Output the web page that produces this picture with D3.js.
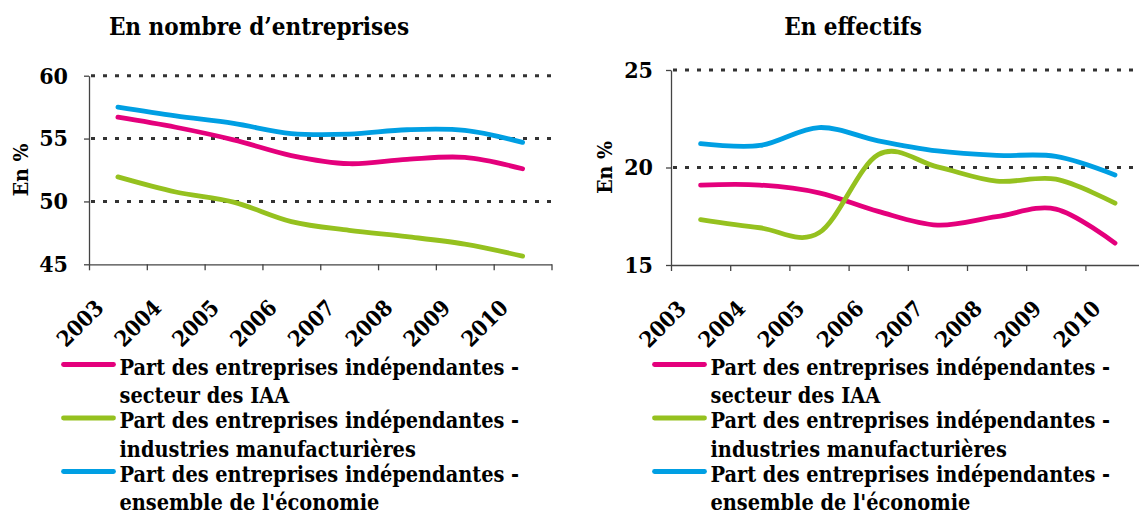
<!DOCTYPE html>
<html>
<head>
<meta charset="utf-8">
<script src="https://cdn.jsdelivr.net/npm/d3@7"></script>
<style>
  body { margin: 0; background: #fff; }
  svg text { font-family: "DejaVu Serif Condensed", "DejaVu Serif", serif; font-weight: bold; fill: #000; }
</style>
</head>
<body>
<div id="root"></div>
<script>
// Categories (x axis).
const years = ['2003', '2004', '2005', '2006', '2007', '2008', '2009', '2010'];

// Left panel: share in number of companies (%).
const nbIAA      = [56.7, 55.9, 54.9, 53.65, 53.0, 53.35, 53.5, 52.6];
const nbManuf    = [51.95, 50.75, 49.95, 48.4, 47.7, 47.2, 46.6, 45.65];
const nbEnsemble = [57.5, 56.8, 56.2, 55.4, 55.35, 55.7, 55.65, 54.7];

// Right panel: share in headcount (%).
const effIAA      = [19.1, 19.1, 18.7, 17.75, 17.05, 17.48, 17.87, 16.12];
const effManuf    = [17.33, 16.91, 16.65, 20.66, 20.03, 19.3, 19.4, 18.17];
const effEnsemble = [21.22, 21.13, 22.05, 21.37, 20.85, 20.62, 20.57, 19.62];

// Tick labels.
const leftTicks = [45, 50, 55, 60];
const rightTicks = [15, 20, 25];

// Legend labels (two lines each).
const seriesLabels = [
  ['Part des entreprises indépendantes -', 'secteur des IAA'],
  ['Part des entreprises indépendantes -', 'industries manufacturières'],
  ['Part des entreprises indépendantes -', "ensemble de l'économie"]
];
const seriesColors = ['#E4007C', '#95C11F', '#009FE3'];

const svg = d3.select('#root')
  .append('svg')
  .attr('width', 1139)
  .attr('height', 515);

function drawPanel(p) {
  const g = svg.append('g');

  // x: one band per year, Excel puts the ticks between categories.
  const x = d3.scaleBand().domain(years).range([p.x0, p.x1]).padding(0);
  const xEdge = d3.scaleLinear().domain([0, years.length]).range([p.x0, p.x1]);
  const y = d3.scaleLinear().domain(p.domain).range([p.yBottom, p.yTop]);

  // dotted gridlines
  g.selectAll('.grid')
    .data(p.ticks.filter(t => t > p.domain[0]))
    .enter()
    .append('line')
    .attr('class', 'grid')
    .attr('x1', p.x0 + 2)
    .attr('x2', p.x1)
    .attr('y1', d => y(d))
    .attr('y2', d => y(d))
    .attr('stroke', '#333')
    .attr('stroke-width', 3)
    .attr('stroke-dasharray', '4,8');

  // x axis (ticks only, labels are rotated separately)
  const xAxis = g.append('g')
    .attr('transform', `translate(0, ${p.yBottom})`)
    .call(d3.axisBottom(xEdge).tickValues(d3.range(0, years.length + 1)).tickFormat('').tickSize(6).tickSizeOuter(0));
  xAxis.select('.domain').attr('stroke', '#444').attr('stroke-width', 1.3);
  xAxis.selectAll('.tick line').attr('stroke', '#444').attr('stroke-width', 1.3);

  g.selectAll('.xlabel')
    .data(years)
    .enter()
    .append('text')
    .attr('class', 'xlabel')
    .attr('transform', d => `translate(${x(d) + x.bandwidth() / 2 - 13}, ${p.yBottom + 45}) rotate(-45)`)
    .style('text-anchor', 'end')
    .style('font-size', '22px')
    .text(d => d);

  // y axis
  const yAxis = g.append('g')
    .attr('transform', `translate(${p.x0}, 0)`)
    .call(d3.axisLeft(y).tickValues(p.ticks).tickSize(5).tickSizeOuter(0).tickPadding(p.tickPad));
  yAxis.select('.domain').attr('stroke', '#444').attr('stroke-width', 1.3);
  yAxis.selectAll('.tick line').attr('stroke', '#444').attr('stroke-width', 1.3);
  yAxis.selectAll('.tick text')
    .style('font-size', '23px')
    .style('font-family', '"DejaVu Serif Condensed", "DejaVu Serif", serif')
    .style('font-weight', 'bold')
    .attr('fill', '#000');

  // y label
  g.append('text')
    .attr('transform', `translate(${p.ylabelX}, ${(p.yTop + p.yBottom) / 2}) rotate(-90)`)
    .style('text-anchor', 'middle')
    .style('font-size', '21px')
    .text('En %');

  // title
  g.append('text')
    .attr('x', p.titleX)
    .attr('y', 35)
    .style('text-anchor', 'middle')
    .style('font-size', '24px')
    .text(p.title);

  // smoothed lines like Excel
  const line = d3.line()
    .x((d, i) => x(years[i]) + x.bandwidth() / 2)
    .y(d => y(d))
    .curve(d3.curveCardinal);

  p.series.forEach(function (values, i) {
    g.append('path')
      .datum(values)
      .attr('fill', 'none')
      .attr('stroke', seriesColors[i])
      .attr('stroke-width', 4.8)
      .attr('stroke-linecap', 'round')
      .attr('stroke-linejoin', 'round')
      .attr('d', line);
  });

  // legend
  const legend = g.selectAll('.legend-item')
    .data(seriesLabels)
    .enter()
    .append('g')
    .attr('class', 'legend-item')
    .attr('transform', (d, i) => `translate(${p.legendX}, ${364.5 + i * 53.5})`);

  legend.append('line')
    .attr('x1', 0)
    .attr('x2', 50)
    .attr('stroke', (d, i) => seriesColors[i])
    .attr('stroke-width', 4.8)
    .attr('stroke-linecap', 'round');

  legend.each(function (lines) {
    d3.select(this).selectAll('text')
      .data(lines)
      .enter()
      .append('text')
      .attr('x', 56)
      .attr('y', (d, j) => 10 + j * 28.5)
      .style('font-size', '21.5px')
      .text(d => d);
  });
}

drawPanel({
  title: 'En nombre d\u2019entreprises',
  titleX: 259,
  x0: 89, x1: 551.5,
  yTop: 75.7, yBottom: 264.3,
  domain: [45, 60],
  ticks: leftTicks,
  tickPad: 16,
  ylabelX: 28,
  legendX: 63.5,
  series: [nbIAA, nbManuf, nbEnsemble]
});

drawPanel({
  title: 'En effectifs',
  titleX: 853,
  x0: 671, x1: 671 + 8 * 59.2,
  yTop: 70, yBottom: 265,
  domain: [15, 25],
  ticks: rightTicks,
  tickPad: 13,
  ylabelX: 612,
  legendX: 654.5,
  series: [effIAA, effManuf, effEnsemble]
});
</script>
</body>
</html>
